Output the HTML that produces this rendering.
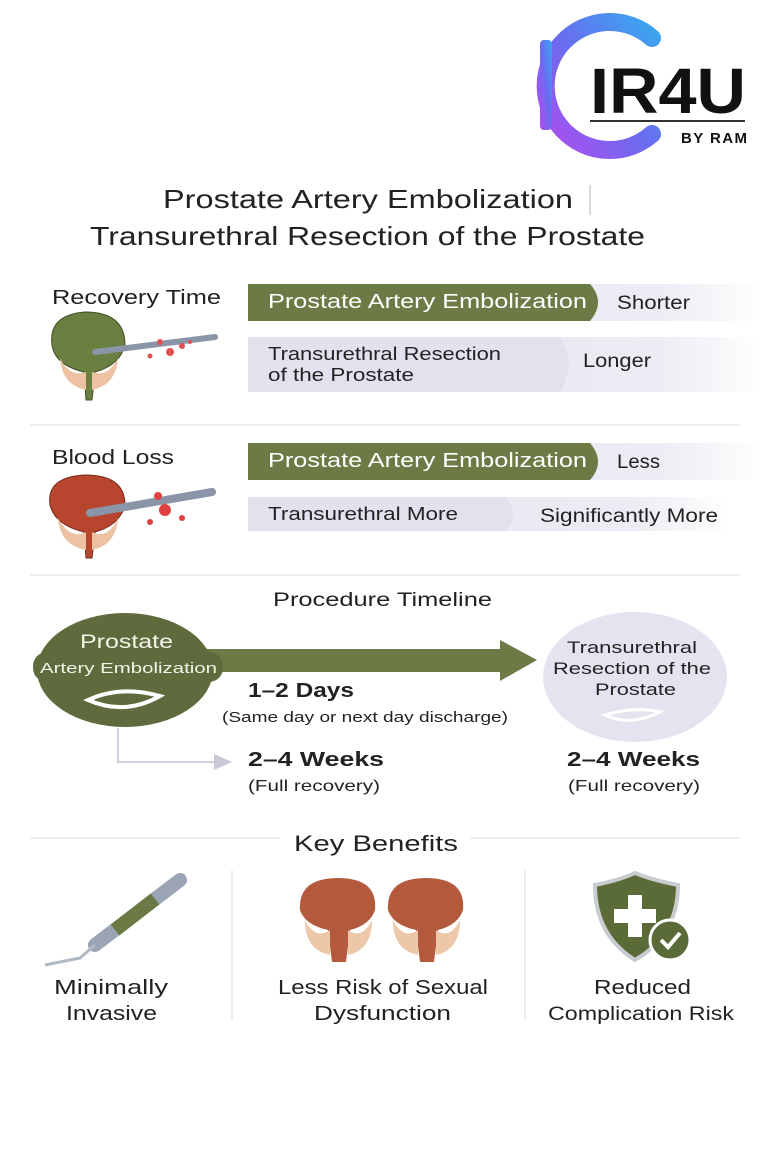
<!DOCTYPE html>
<html><head><meta charset="utf-8"><style>
html,body{margin:0;padding:0;background:#fff;}
svg{display:block;font-family:"Liberation Sans",sans-serif;}
</style></head><body>
<svg width="768" height="1153" viewBox="0 0 768 1153" xmlns="http://www.w3.org/2000/svg">
<defs>
<linearGradient id="lg" x1="0" y1="1" x2="1" y2="0"><stop offset="0" stop-color="#b14cf0"/><stop offset="0.5" stop-color="#6a6cf0"/><stop offset="1" stop-color="#3aa6ef"/></linearGradient>
<linearGradient id="fade" x1="0" x2="1"><stop offset="0" stop-color="#e4e4f0"/><stop offset="0.8" stop-color="#ececf4"/><stop offset="1" stop-color="#fff"/></linearGradient>
<marker id="ah" markerWidth="10" markerHeight="10" refX="8" refY="5" orient="auto"><path d="M0,1 L9,5 L0,9z" fill="#c8c8d8"/></marker>
</defs>
<rect width="768" height="1153" fill="#fff"/>
<!-- logo -->
<path d="M652,38 A64,64 0 1 0 652,134" fill="none" stroke="url(#lg)" stroke-width="18" stroke-linecap="round"/>
<rect x="540" y="40" width="12" height="90" rx="4" fill="url(#lg)"/>
<text x="590" y="113" font-size="64" font-weight="bold" fill="#111" textLength="156" lengthAdjust="spacingAndGlyphs">IR4U</text>
<line x1="590" y1="121" x2="745" y2="121" stroke="#333" stroke-width="2"/>
<text x="681" y="143" font-size="15" font-weight="bold" fill="#111" textLength="66">BY RAM</text>
<!-- title -->
<g fill="#222" lengthAdjust="spacingAndGlyphs">
<text x="163" y="208" font-size="26" textLength="410" lengthAdjust="spacingAndGlyphs">Prostate Artery Embolization</text>
<line x1="590" y1="185" x2="590" y2="215" stroke="#ccc" stroke-width="1.5"/>
<text x="90" y="245" font-size="26" textLength="555" lengthAdjust="spacingAndGlyphs">Transurethral Resection of the Prostate</text>
</g>
<!-- recovery -->
<text x="52" y="304" font-size="20" fill="#222" textLength="169" lengthAdjust="spacingAndGlyphs">Recovery Time</text>
<rect x="248" y="284" width="515" height="37" fill="url(#fade)"/>
<path d="M248,284 H590 Q606,302 590,321 H248z" fill="#6c7a45"/>
<text x="268" y="308" font-size="20" fill="#fff" textLength="319" lengthAdjust="spacingAndGlyphs">Prostate Artery Embolization</text>
<text x="617" y="309" font-size="19" fill="#222" textLength="73" lengthAdjust="spacingAndGlyphs">Shorter</text>
<rect x="248" y="337" width="515" height="55" fill="url(#fade)"/>
<path d="M248,337 H560 Q578,364 560,392 H248z" fill="#e2e2ef"/>
<text x="268" y="360" font-size="18" fill="#222" textLength="233" lengthAdjust="spacingAndGlyphs">Transurethral Resection</text>
<text x="268" y="381" font-size="18" fill="#222" textLength="146" lengthAdjust="spacingAndGlyphs">of the Prostate</text>
<text x="583" y="367" font-size="19" fill="#222" textLength="68" lengthAdjust="spacingAndGlyphs">Longer</text>
<!-- prostate icon 1 -->
<g>
<path d="M52,345 Q48,315 85,312 Q125,312 125,345 Q120,365 95,372 L92,400 L86,400 L84,372 Q55,365 52,345z" fill="#6a8040" stroke="#3f4f25"/>
<path d="M60,358 Q70,378 86,372 L86,390 Q62,385 60,358z M118,358 Q108,378 92,372 L92,390 Q116,385 118,358z" fill="#ecc2a2"/>
<line x1="95" y1="352" x2="215" y2="337" stroke="#8a95a8" stroke-width="6" stroke-linecap="round"/>
<g fill="#e05050"><circle cx="160" cy="342" r="3"/><circle cx="170" cy="352" r="4"/><circle cx="150" cy="356" r="2.5"/><circle cx="182" cy="346" r="3"/><circle cx="190" cy="342" r="2"/></g>
</g>
<line x1="30" y1="425" x2="740" y2="425" stroke="#eee" stroke-width="2"/>
<!-- blood -->
<text x="52" y="464" font-size="20" fill="#222" textLength="122" lengthAdjust="spacingAndGlyphs">Blood Loss</text>
<rect x="248" y="443" width="515" height="37" fill="url(#fade)"/>
<path d="M248,443 H590 Q606,462 590,480 H248z" fill="#6c7a45"/>
<text x="268" y="467" font-size="20" fill="#fff" textLength="319" lengthAdjust="spacingAndGlyphs">Prostate Artery Embolization</text>
<text x="617" y="468" font-size="19" fill="#222" textLength="43" lengthAdjust="spacingAndGlyphs">Less</text>
<rect x="248" y="497" width="480" height="34" fill="url(#fade)"/>
<path d="M248,497 H505 Q522,514 505,531 H248z" fill="#e2e2ef"/>
<text x="268" y="520" font-size="18" fill="#222" textLength="190" lengthAdjust="spacingAndGlyphs">Transurethral More</text>
<text x="540" y="522" font-size="19" fill="#222" textLength="178" lengthAdjust="spacingAndGlyphs">Significantly More</text>
<g>
<path d="M50,505 Q46,477 85,475 Q125,475 125,505 Q120,525 95,532 L92,558 L86,558 L84,532 Q55,525 50,505z" fill="#b8452e" stroke="#7a2a1a"/>
<path d="M58,518 Q70,540 86,532 L86,550 Q60,545 58,518z M118,518 Q108,540 92,532 L92,550 Q116,545 118,518z" fill="#ecc2a2"/>
<line x1="90" y1="513" x2="212" y2="492" stroke="#8a95a8" stroke-width="8" stroke-linecap="round"/>
<g fill="#e04040"><circle cx="158" cy="496" r="4"/><circle cx="165" cy="510" r="6"/><circle cx="150" cy="522" r="3"/><circle cx="182" cy="518" r="3"/></g>
</g>
<line x1="30" y1="575" x2="740" y2="575" stroke="#eee" stroke-width="2"/>
<!-- timeline -->
<text x="273" y="606" font-size="19" fill="#222" textLength="219" lengthAdjust="spacingAndGlyphs">Procedure Timeline</text>
<ellipse cx="635" cy="677" rx="92" ry="65" fill="#e4e4f0"/>
<text x="567" y="653" font-size="17" fill="#222" textLength="130" lengthAdjust="spacingAndGlyphs">Transurethral</text>
<text x="553" y="674" font-size="17" fill="#222" textLength="158" lengthAdjust="spacingAndGlyphs">Resection of the</text>
<text x="595" y="695" font-size="17" fill="#222" textLength="81" lengthAdjust="spacingAndGlyphs">Prostate</text>
<path d="M605,715 Q630,727 660,712 Q635,706 605,715z" fill="none" stroke="#fff" stroke-width="3"/>
<rect x="180" y="649" width="325" height="23" fill="#6c7a45"/>
<path d="M500,640 L537,660 L500,681z" fill="#6c7a45"/>
<ellipse cx="125" cy="670" rx="88" ry="57" fill="#5e6b3c"/>
<rect x="33" y="652" width="190" height="30" rx="14" fill="#5e6b3c"/>
<text x="80" y="648" font-size="19" fill="#f4f4ea" textLength="93" lengthAdjust="spacingAndGlyphs">Prostate</text>
<text x="40" y="673" font-size="15" fill="#f4f4ea" textLength="177" lengthAdjust="spacingAndGlyphs">Artery Embolization</text>
<path d="M88,700 Q120,685 160,696 Q125,716 88,700z" fill="none" stroke="#fff" stroke-width="4"/>
<path d="M118,728 V762 H230" fill="none" stroke="#d0d0dc" stroke-width="2" marker-end="url(#ah)"/>
<text x="248" y="697" font-size="20" font-weight="bold" fill="#222" textLength="106" lengthAdjust="spacingAndGlyphs">1–2 Days</text>
<text x="222" y="722" font-size="15" fill="#222" textLength="286" lengthAdjust="spacingAndGlyphs">(Same day or next day discharge)</text>
<text x="248" y="766" font-size="20" font-weight="bold" fill="#222" textLength="136" lengthAdjust="spacingAndGlyphs">2–4 Weeks</text>
<text x="248" y="791" font-size="16" fill="#222" textLength="132" lengthAdjust="spacingAndGlyphs">(Full recovery)</text>
<text x="567" y="766" font-size="20" font-weight="bold" fill="#222" textLength="133" lengthAdjust="spacingAndGlyphs">2–4 Weeks</text>
<text x="568" y="791" font-size="16" fill="#222" textLength="132" lengthAdjust="spacingAndGlyphs">(Full recovery)</text>
<!-- benefits -->
<line x1="30" y1="838" x2="280" y2="838" stroke="#eee" stroke-width="2"/>
<line x1="470" y1="838" x2="740" y2="838" stroke="#eee" stroke-width="2"/>
<text x="294" y="851" font-size="22" fill="#222" textLength="164" lengthAdjust="spacingAndGlyphs">Key Benefits</text>
<line x1="232" y1="870" x2="232" y2="1020" stroke="#eee" stroke-width="2"/>
<line x1="525" y1="870" x2="525" y2="1020" stroke="#eee" stroke-width="2"/>
<g>
<line x1="95" y1="945" x2="180" y2="880" stroke="#9aa4b5" stroke-width="14" stroke-linecap="round"/>
<line x1="115" y1="930" x2="155" y2="899" stroke="#6b7a45" stroke-width="14"/>
<path d="M95,945 L80,958 Q60,962 45,965" fill="none" stroke="#b0b8c4" stroke-width="3"/>
</g>
<g>
<path d="M300,910 Q298,878 338,878 Q378,878 375,910 Q370,925 350,930 L346,962 L332,962 L328,930 Q305,925 300,910z" fill="#b45a3c"/>
<path d="M305,920 Q315,940 330,930 L330,955 Q305,950 305,920z M372,920 Q362,940 348,930 L348,955 Q372,950 372,920z" fill="#ecc8a8"/>
<path d="M388,910 Q386,878 426,878 Q466,878 463,910 Q458,925 438,930 L434,962 L420,962 L416,930 Q393,925 388,910z" fill="#b45a3c"/>
<path d="M393,920 Q403,940 418,930 L418,955 Q393,950 393,920z M460,920 Q450,940 436,930 L436,955 Q460,950 460,920z" fill="#ecc8a8"/>
</g>
<g>
<path d="M595,885 Q620,880 635,873 Q652,880 678,885 Q678,935 635,960 Q595,935 595,885z" fill="#5a6b38" stroke="#c8ccd0" stroke-width="4"/>
<rect x="628" y="895" width="14" height="42" fill="#fff"/><rect x="614" y="909" width="42" height="14" fill="#fff"/>
<circle cx="670" cy="940" r="20" fill="#5a6b38" stroke="#fff" stroke-width="3"/>
<path d="M661,940 L668,947 L680,933" fill="none" stroke="#fff" stroke-width="4"/>
</g>
<text x="54" y="994" font-size="20" fill="#222" textLength="114" lengthAdjust="spacingAndGlyphs">Minimally</text>
<text x="66" y="1020" font-size="20" fill="#222" textLength="91" lengthAdjust="spacingAndGlyphs">Invasive</text>
<text x="278" y="994" font-size="20" fill="#222" textLength="210" lengthAdjust="spacingAndGlyphs">Less Risk of Sexual</text>
<text x="314" y="1020" font-size="20" fill="#222" textLength="137" lengthAdjust="spacingAndGlyphs">Dysfunction</text>
<text x="594" y="994" font-size="20" fill="#222" textLength="97" lengthAdjust="spacingAndGlyphs">Reduced</text>
<text x="548" y="1020" font-size="19" fill="#222" textLength="186" lengthAdjust="spacingAndGlyphs">Complication Risk</text>
</svg>
</body></html>
